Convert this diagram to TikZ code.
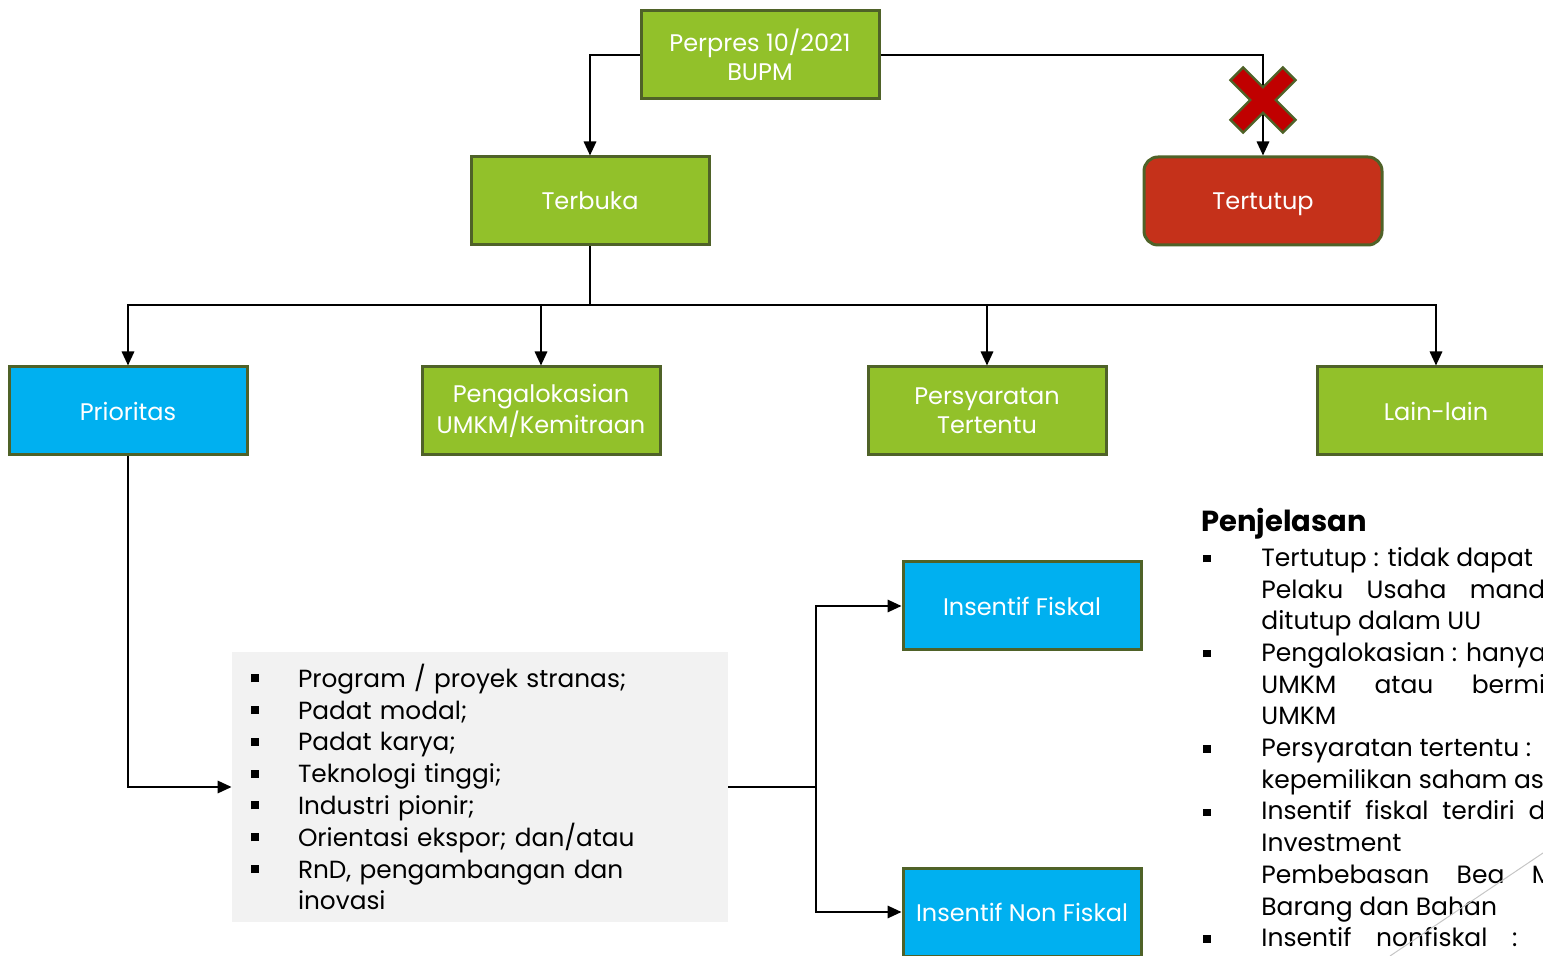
\documentclass[tikz,border=0pt]{standalone}
\usepackage{fontspec}
\setmainfont{Poppins}
\usepackage{xcolor}
\usetikzlibrary{shapes,arrows.meta,positioning}

\definecolor{boxgreen}{HTML}{92C12A}
\definecolor{boxblue}{HTML}{00B0F0}
\definecolor{boxred}{HTML}{C5311A}
\definecolor{boxline}{HTML}{4F6228}
\definecolor{crossred}{HTML}{C00000}
\definecolor{listgray}{HTML}{F2F2F2}

% bullets for the two lists
\newcommand{\lbul}{\makebox[33pt][l]{\hspace{9.3pt}\rule[2.5pt]{4pt}{4pt}}}
\newcommand{\lind}{\hspace*{33pt}}
\newcommand{\ebul}{\makebox[30pt][l]{\hspace{1pt}\rule[2pt]{3.7pt}{3.7pt}}}
\newcommand{\eind}{\hspace*{30pt}}

\begin{document}
\begin{tikzpicture}[x=0.5pt, y=-0.5pt, font=\fontsize{12}{14.5}\selectfont]
    % Define styles
    \tikzstyle{box} = [rectangle, minimum width=119pt, minimum height=44pt, text centered, align=center, draw=boxline, line width=1.5pt, text=white]
    \tikzstyle{arrow} = [line width=1pt, -{Triangle[length=7pt, width=6.2pt]}]
    \tikzstyle{line} = [line width=1pt]

    \useasboundingbox (0,0) rectangle (1543,956);
    \clip (0,0) rectangle (1543,956);

    % Top
    \node [box, fill=boxgreen] (perpres) at (760,55) {Perpres 10/2021\\BUPM};
    \node [box, fill=boxgreen] (terbuka) at (590,201) {Terbuka};
    \node [box, fill=boxred, rounded corners=7pt, text depth=0pt] (tertutup) at (1263,201) {Tertutup};

    % Middle row
    \node [box, fill=boxblue] (prioritas) at (128,411) {Prioritas};
    \node [box, fill=boxgreen] (alokasi) at (541,411) {Pengalokasian\\UMKM/Kemitraan};
    \node [box, fill=boxgreen] (syarat) at (987,411) {Persyaratan\\Tertentu};
    \node [box, fill=boxgreen] (lain) at (1436,411) {Lain-lain};

    % Bidang prioritas
    \node [fill=listgray, minimum width=248pt, minimum height=135pt, inner sep=0pt, text width=248pt, align=left, font=\fontsize{12.4}{15.9}\selectfont] (kriteria) at (480,787) {%
        \lbul Program / proyek stranas;\\
        \lbul Padat modal;\\
        \lbul Padat karya;\\
        \lbul Teknologi tinggi;\\
        \lbul Industri pionir;\\
        \lbul Orientasi ekspor; dan/atau\\
        \lbul RnD, pengambangan dan\\
        \lind inovasi};

    % Insentif
    \node [box, fill=boxblue] (fiskal) at (1022,606) {Insentif Fiskal};
    \node [box, fill=boxblue] (nonfiskal) at (1022,912) {Insentif Non Fiskal};

    % Connectors
    \draw [arrow] (perpres.west) -| (terbuka.north);
    \draw [arrow] (perpres.east) -| (tertutup.north);
    \coordinate (bus) at (590,305);
    \draw [line] (terbuka.south) -- (bus);
    \foreach \n in {prioritas, alokasi, syarat, lain}
        \draw [arrow] (bus) -| (\n.north);
    \draw [arrow] (prioritas.south) |- (kriteria.west);
    \coordinate (split) at (816,787);
    \draw [line] (kriteria.east) -- (split);
    \draw [arrow] (split) |- (fiskal.west);
    \draw [arrow] (split) |- (nonfiskal.west);

    % Cross on the closed branch
    \draw [fill=crossred, draw=boxline, line width=1.2pt, rotate around={45:(1263,100)}]
        (1254,63) -- (1272,63) -- (1272,91) -- (1300,91) -- (1300,109) -- (1272,109)
        -- (1272,137) -- (1254,137) -- (1254,109) -- (1226,109) -- (1226,91) -- (1254,91) -- cycle;

    % Penjelasan
    \node [anchor=north west, inner sep=0pt, align=left, font=\fontsize{12.5}{15.85}\selectfont] (penjelasan) at (1201,508) {%
        {\fontsize{14.5}{15.85}\selectfont\bfseries Penjelasan}\\[1.5pt]
        \ebul Tertutup : tidak dapat\\
        \eind\makebox[142pt][s]{Pelaku Usaha mand}\\
        \eind ditutup dalam UU\\
        \ebul Pengalokasian : hanya\\
        \eind\makebox[142pt][s]{UMKM atau bermi}\\
        \eind UMKM\\
        \ebul Persyaratan tertentu :\\
        \eind kepemilikan saham as\\
        \ebul\makebox[142pt][s]{Insentif fiskal terdiri d}\\
        \eind Investment\\
        \eind\makebox[146pt][s]{Pembebasan Bea M}\\
        \eind Barang dan Bahan\\
        \ebul\makebox[128pt][s]{Insentif nonfiskal :}};

    % slide decoration
    \draw [gray!45, line width=0.5pt] (1390,956) -- (1543,853);
\end{tikzpicture}
\end{document}
